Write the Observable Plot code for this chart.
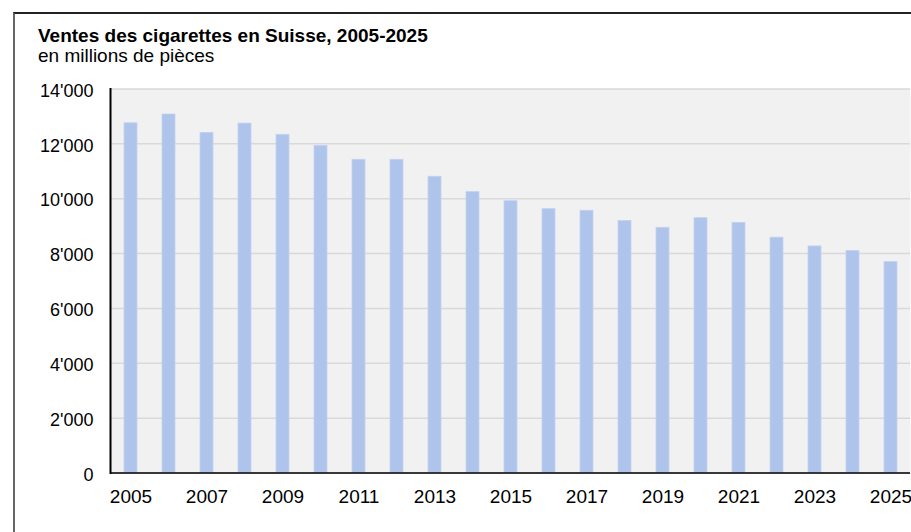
<!DOCTYPE html>
<html><head><meta charset="utf-8">
<script src="https://cdn.jsdelivr.net/npm/d3@7"></script>
<script src="https://cdn.jsdelivr.net/npm/@observablehq/plot@0.6"></script>
<style>
html,body{margin:0;padding:0;background:#fff;overflow:hidden;}
body{width:911px;height:532px;position:relative;font-family:"Liberation Sans",Arial,sans-serif;}
#frame{position:absolute;left:13px;top:12px;width:910px;height:530px;border-top:2px solid #222;border-left:2px solid #666;box-sizing:border-box;}
#title{position:absolute;left:38px;top:25.5px;font-weight:bold;font-size:19px;line-height:20px;color:#000;white-space:nowrap;}
#subtitle{position:absolute;left:38px;top:45.5px;font-size:19px;line-height:20px;color:#000;white-space:nowrap;}
#chart{position:absolute;left:0;top:70px;}
</style></head>
<body>
<div id="frame"></div>
<div id="title">Ventes des cigarettes en Suisse, 2005-2025</div>
<div id="subtitle">en millions de pièces</div>
<div id="chart"></div>
<script>
const years = [2005,2006,2007,2008,2009,2010,2011,2012,2013,2014,2015,2016,2017,2018,2019,2020,2021,2022,2023,2024,2025];
const sales = [12750,13070,12400,12740,12330,11930,11420,11420,10800,10240,9910,9620,9560,9190,8940,9290,9120,8580,8260,8090,7690];
const yTicks = [0,2000,4000,6000,8000,10000,12000,14000];
const xTickYears = [2005,2007,2009,2011,2013,2015,2017,2019,2021,2023,2025];

const data = years.map((y,i)=>({year:y, value:sales[i]}));
const fmt = d3.formatLocale({decimal:".", thousands:"'", grouping:[3], currency:["",""]}).format(",");

const chart = Plot.plot({
  width: 911,
  height: 462,
  marginLeft: 110,
  marginRight: 1,
  marginTop: 18.5,
  marginBottom: 59.5,
  style: {fontFamily: '"Liberation Sans", Arial, sans-serif', fontSize: "18px", color: "#000", background: "transparent"},
  x: {type: "band", domain: years, paddingInner: 0.67, paddingOuter: 0.335, label: null},
  y: {domain: [0, 14000], label: null},
  marks: [
    Plot.frame({fill: "#f1f1f1", stroke: null}),
    Plot.gridY(yTicks, {stroke: "#d9d9d9", strokeOpacity: 1, strokeWidth: 1.5}),
    Plot.barY(data, {x: "year", y: "value", fill: "#afc4eb", stroke: "#c3d2f0", strokeWidth: 0.8}),
    Plot.ruleY([0], {stroke: "#000", strokeWidth: 1.5}),
    Plot.frame({anchor: "left", stroke: "#000", strokeWidth: 2, strokeOpacity: 1}),
    Plot.axisY(yTicks, {tickSize: 0, tickPadding: 17, tickFormat: fmt, fill: "#000", fontSize: 18, dy: 2}),
    Plot.axisX(xTickYears, {tickSize: 0, tickPadding: 16, tickFormat: d => String(d), fill: "#000", fontSize: 19})
  ]
});
document.getElementById("chart").appendChild(chart);
</script>
</body></html>
